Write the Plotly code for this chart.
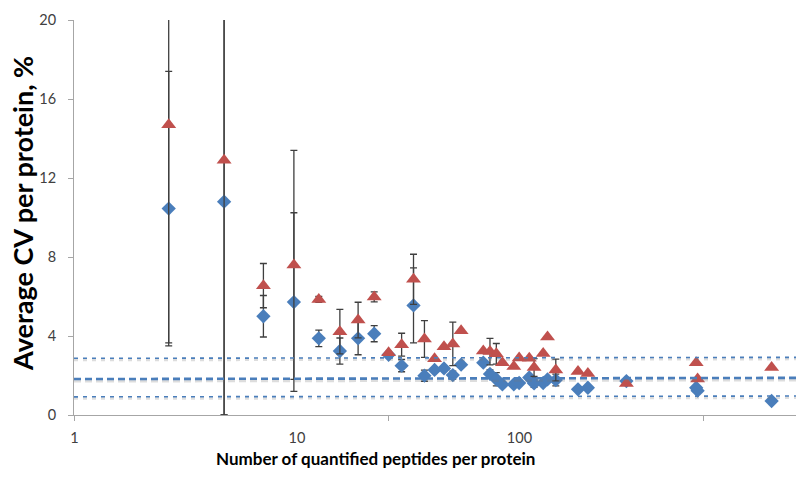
import plotly.graph_objects as go

# ---- data ----
peptides = [2, 3, 4, 5, 6, 7, 8, 9, 10, 11, 12, 13, 14, 15, 16, 17, 20, 21, 22, 23,
            25, 26, 28, 29, 31, 32, 34, 40, 43, 57, 95, 96, 165]

cv_blue = [10.45, 10.8, 5.0, 5.72, 3.88, 3.24, 3.88, 4.12, 3.05, 2.5, 5.55, 1.99, 2.28, 2.36,
           2.02, 2.55, 2.65, 2.08, 1.81, 1.55, 1.55, 1.62, 1.9, 1.6, 1.62, 1.8, 1.77, 1.3,
           1.38, 1.72, 1.38, 1.23, 0.71]
err_blue = [6.95, 10.8, 1.05, 4.52, 0.42, 0.66, 0.83, 0.41, None, 0.31, 1.9, 0.28, None, None,
            0.2, None, None, 0.2, 0.34, None, None, None, None, 0.2, None, None, 0.3, None,
            None, None, None, None, None]

cv_red = [14.7, 12.9, 6.55, 7.6, 5.85, 4.22, 4.81, 5.98, 3.15, 3.56, 6.87, 3.85, 2.85, 3.45,
          3.6, 4.27, 3.24, 3.21, 3.1, 2.65, 2.45, 2.88, 2.87, 2.4, 3.12, 3.95, 2.28, 2.2,
          2.1, 1.6, 2.65, 1.82, 2.4]
err_red = [11.05, 12.9, 1.12, 5.8, 0.15, 1.13, 0.9, 0.25, None, 0.58, 1.27, 0.93, None, None,
           1.1, None, None, 0.67, 0.52, None, None, None, None, 0.45, None, None, 0.55, None,
           None, None, None, None, None]

# reference lines (value at left edge, value at right edge)
ref_names = ["upper", "mean", "lower"]
ref_left = [2.87, 1.82, 0.92]
ref_right = [2.92, 1.88, 0.96]

y_ticks = [0, 4, 8, 12, 16, 20]
x_tick_vals = [1, 10, 100]
x_tick_text = ["1", "10", "100"]

# ---- styling ----
BLUE = "#4A7EBB"
RED = "#C0504D"
ERR = "#3F3F3F"
AXIS = "#A6A6A6"
TICKFONT = dict(family="Lato, sans-serif", size=14.5, color="#404040")

x_range_log = [0, 2.295]
x_span = [10 ** x_range_log[0], 10 ** x_range_log[1]]


def arr(errs):
    return [e if e is not None else float("nan") for e in errs]


fig = go.Figure()

fig.add_trace(go.Scatter(
    x=peptides, y=cv_blue, mode="markers", name="blue",
    marker=dict(symbol="diamond", size=11, color=BLUE, line=dict(width=0)),
    error_y=dict(type="data", array=arr(err_blue), visible=True, color=ERR,
                 thickness=1.3, width=3.5),
    showlegend=False))

fig.add_trace(go.Scatter(
    x=peptides, y=cv_red, mode="markers", name="red",
    marker=dict(symbol="triangle-up", size=13, color=RED, line=dict(width=0)),
    error_y=dict(type="data", array=arr(err_red), visible=True, color=ERR,
                 thickness=1.3, width=3.5),
    showlegend=False))

for i, (a, b) in enumerate(zip(ref_left, ref_right)):
    main = ref_names[i] == "mean"
    dash = "7px,4px" if main else "4px,5px"
    # soft shadow
    fig.add_trace(go.Scatter(
        x=x_span, y=[a - 0.09, b - 0.09], mode="lines", hoverinfo="skip", showlegend=False,
        line=dict(color="rgba(120,120,120,0.25)", width=3.5 if main else 2.5, dash=dash)))
    fig.add_trace(go.Scatter(
        x=x_span, y=[a, b], mode="lines", hoverinfo="skip", showlegend=False,
        line=dict(color=BLUE, width=2.6 if main else 1.6, dash=dash)))

# invisible trace to carry the label axis
fig.add_trace(go.Scatter(x=[1, 100], y=[None, None], xaxis="x2", yaxis="y",
                         mode="markers", showlegend=False, hoverinfo="skip"))

fig.update_layout(
    width=796, height=477,
    margin=dict(l=74, r=0, t=20, b=62),
    paper_bgcolor="white", plot_bgcolor="white",
    font=dict(family="Lato, sans-serif"),
    xaxis=dict(type="log", range=x_range_log, showgrid=False, zeroline=False,
               showline=True, linecolor=AXIS, linewidth=1,
               ticks="outside", ticklen=5, tickcolor=AXIS, tickvals=x_tick_vals,
               showticklabels=False),
    xaxis2=dict(type="log", range=[-0.002, 3.243], overlaying="x", anchor="y", side="bottom",
                showgrid=False, zeroline=False, showline=False, ticks="",
                tickvals=x_tick_vals, ticktext=x_tick_text, tickfont=TICKFONT,
                ticklabelstandoff=12),
    yaxis=dict(range=[0, 20], showgrid=False, zeroline=False,
               showline=True, linecolor=AXIS, linewidth=1,
               ticks="outside", ticklen=5, tickcolor=AXIS, tickvals=y_ticks,
               tickfont=TICKFONT, ticklabelstandoff=9),
    annotations=[
        dict(text="<b>Average CV per protein, %</b>", xref="paper", yref="paper",
             x=-0.0706, y=0.509, xanchor="center", yanchor="middle", textangle=-90,
             showarrow=False, font=dict(family="Lato, sans-serif", size=27, color="#000000")),
        dict(text="<b>Number of quantified peptides per protein</b>", xref="paper", yref="paper",
             x=0.417, y=-0.109, xanchor="center", yanchor="middle",
             showarrow=False, font=dict(family="Lato, sans-serif", size=17, color="#000000")),
    ],
)

fig.write_html("out.html")
